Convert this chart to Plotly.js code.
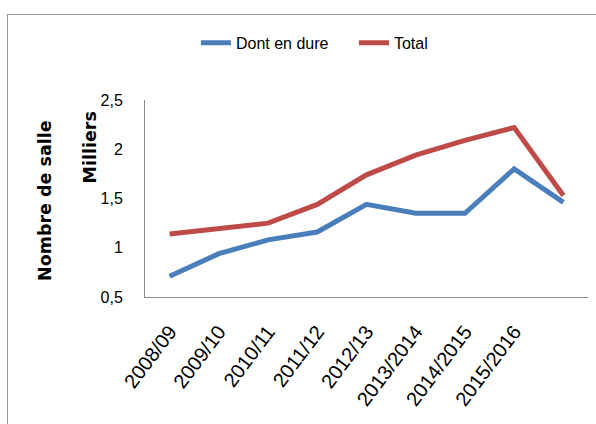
<!DOCTYPE html>
<html>
<head>
<meta charset="utf-8">
<script src="https://cdn.plot.ly/plotly-3.0.1.min.js"></script>
<style>
html,body{margin:0;padding:0;background:#fff;overflow:hidden;}
#frame{position:absolute;left:7px;top:14px;width:620px;height:440px;border:1px solid #999;box-sizing:border-box;}
#chart{position:absolute;left:0;top:0;width:596px;height:424px;}
</style>
</head>
<body>
<div id="frame"></div>
<div id="chart"></div>
<script>
var categories = ["2008/09","2009/10","2010/11","2011/12","2012/13","2013/2014","2014/2015","2015/2016",""];
var dontEnDure = [0.71, 0.94, 1.08, 1.16, 1.44, 1.35, 1.35, 1.80, 1.46];
var total = [1.14, 1.20, 1.25, 1.44, 1.74, 1.94, 2.09, 2.22, 1.53];
var yTicks = [0.5, 1, 1.5, 2, 2.5];
var yTickText = ["0,5", "1", "1,5", "2", "2,5"];

var idx = categories.map(function(c, i){ return i; });
var font = "'Liberation Sans', Arial, sans-serif";
var boldFont = "'DejaVu Sans', Verdana, sans-serif";

var traces = [
  {x: idx, y: dontEnDure, name: "Dont en dure", type: "scatter", mode: "lines",
   line: {color: "#4A7EBB", width: 5}},
  {x: idx, y: total, name: "Total", type: "scatter", mode: "lines",
   line: {color: "#BE4B48", width: 5}}
];

var layout = {
  width: 596, height: 424,
  margin: {l: 145, r: 8, t: 100, b: 127},
  paper_bgcolor: "rgba(0,0,0,0)", plot_bgcolor: "rgba(0,0,0,0)",
  font: {family: font, size: 16, color: "#000"},
  showlegend: true,
  legend: {orientation: "h", x: 0.115, y: 1.29, xanchor: "left", yanchor: "middle",
           font: {family: font, size: 16, color: "#000"}, entrywidth: 113, tracegroupgap: 0},
  xaxis: {
    range: [-0.5, 8.5], tickmode: "array", tickvals: idx, ticktext: categories,
    tickangle: -53, showgrid: false, zeroline: false, showline: true, linecolor: "#8c8c8c", linewidth: 1,
    ticks: "", ticklabelstandoff: 14, tickfont: {family: font, size: 20, color: "#000"}, fixedrange: true
  },
  yaxis: {
    range: [0.5, 2.5], tickmode: "array", tickvals: yTicks, ticktext: yTickText,
    showgrid: false, zeroline: false, showline: true, linecolor: "#8c8c8c", linewidth: 1,
    ticks: "", ticklabelstandoff: 18, tickfont: {family: font, size: 16, color: "#000"}, fixedrange: true
  },
  annotations: [
    {text: "<b>Nombre de salle</b>", textangle: -90, xref: "paper", yref: "paper",
     x: (45 - 145) / 443, y: (297 - 201) / 197, showarrow: false, xanchor: "center", yanchor: "middle",
     font: {family: boldFont, size: 17.5, color: "#000"}},
    {text: "<b>Milliers</b>", textangle: -90, xref: "paper", yref: "paper",
     x: (89 - 145) / 443, y: (297 - 147.5) / 197, showarrow: false, xanchor: "center", yanchor: "middle",
     font: {family: boldFont, size: 17.5, color: "#000"}}
  ]
};

Plotly.newPlot("chart", traces, layout, {displayModeBar: false, staticPlot: true});
</script>
</body>
</html>
